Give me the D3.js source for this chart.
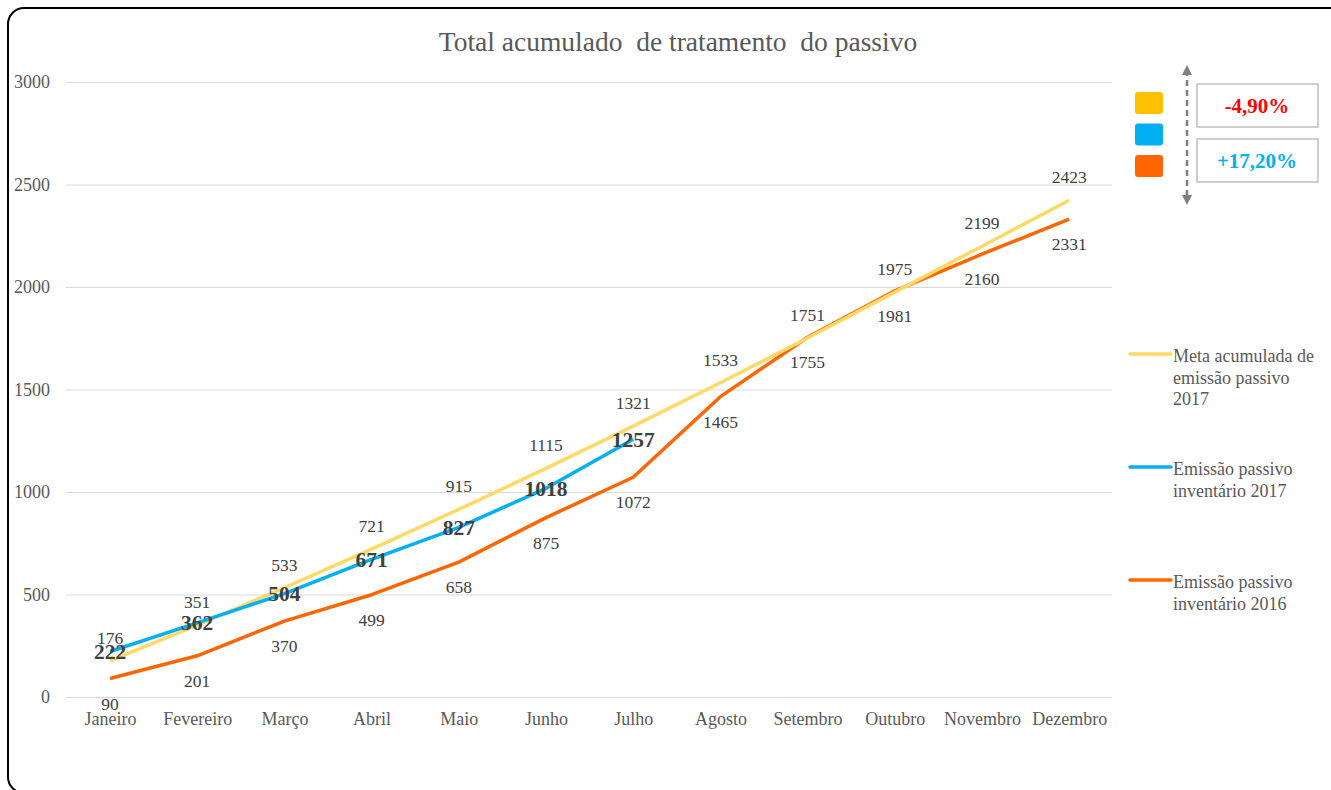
<!DOCTYPE html>
<html>
<head>
<meta charset="utf-8">
<script src="https://cdn.jsdelivr.net/npm/d3@7"></script>
<style>
  html, body { margin: 0; padding: 0; background: #fff; }
  svg { display: block; font-family: "Liberation Serif", "Times New Roman", serif; }
</style>
</head>
<body>
<svg id="chart" width="1331" height="790"></svg>
<script>
const months = ['Janeiro', 'Fevereiro', 'Março', 'Abril', 'Maio', 'Junho', 'Julho', 'Agosto', 'Setembro', 'Outubro', 'Novembro', 'Dezembro']
const meta2017 = [176, 351, 533, 721, 915, 1115, 1321, 1533, 1751, 1975, 2199, 2423]
const inv2017 = [222, 362, 504, 671, 827, 1018, 1257]
const inv2016 = [90, 201, 370, 499, 658, 875, 1072, 1465, 1755, 1981, 2160, 2331]
const yTicks = [0, 500, 1000, 1500, 2000, 2500, 3000]
const seriesNames = [['Meta acumulada de', 'emissão passivo', '2017'], ['Emissão passivo', 'inventário 2017'], ['Emissão passivo', 'inventário 2016']]
const deltas = ['-4,90%', '+17,20%']

const colors = { meta: '#FFD966', inv17: '#00B0F0', inv16: '#FF6600' }
const textGray = '#595959'
const serif = '"Liberation Serif", "Times New Roman", serif'

const svg = d3.select('#chart')

// frame (bottom and right edges run past the picture)
svg.append('rect')
  .attr('x', 8).attr('y', 8)
  .attr('width', 1340).attr('height', 785)
  .attr('rx', 16)
  .attr('fill', '#fff')
  .attr('stroke', '#000')
  .attr('stroke-width', 2)

svg.append('text')
  .attr('x', 678).attr('y', 51)
  .attr('text-anchor', 'middle')
  .attr('font-size', 27.5)
  .attr('fill', textGray)
  .style('white-space', 'pre')
  .text('Total acumulado  de tratamento  do passivo')

const x = d3.scalePoint().domain(months).range([66.4, 1112.8]).padding(0.5)
const y = d3.scaleLinear().domain([0, 3000]).range([697, 82])

// grid
const yAxis = svg.append('g')
  .attr('transform', 'translate(66,0)')
  .call(d3.axisLeft(y).tickValues(yTicks).tickSize(-1046).tickFormat(d3.format('d')))
yAxis.select('.domain').remove()
yAxis.selectAll('line').attr('stroke', '#D9D9D9').attr('stroke-width', 1)
yAxis.selectAll('text')
  .attr('x', -16)
  .attr('font-size', 18)
  .attr('font-family', serif)
  .attr('fill', textGray)

const xAxis = svg.append('g')
  .attr('transform', 'translate(0,697)')
  .call(d3.axisBottom(x).tickSize(0))
xAxis.select('.domain').remove()
xAxis.selectAll('text')
  .attr('y', 28)
  .attr('dy', '0')
  .attr('font-size', 18)
  .attr('font-family', serif)
  .attr('fill', textGray)

const line = d3.line()
  .x((d, i) => x(months[i]))
  .y(d => y(d))

const series = [
  { data: inv2016, color: colors.inv16 },
  { data: meta2017, color: colors.meta },
  { data: inv2017, color: colors.inv17 }
]
series.forEach(s => {
  svg.append('path')
    .datum(s.data)
    .attr('d', line)
    .attr('fill', 'none')
    .attr('stroke', s.color)
    .attr('stroke-width', 3.5)
    .attr('stroke-linejoin', 'round')
})

// data labels
svg.append('g').selectAll('text')
  .data(meta2017)
  .join('text')
  .attr('x', (d, i) => x(months[i]))
  .attr('y', d => y(d) - 17)
  .attr('text-anchor', 'middle')
  .attr('font-size', 17.5)
  .attr('fill', '#404040')
  .text(d => d)

svg.append('g').selectAll('text')
  .data(inv2016)
  .join('text')
  .attr('x', (d, i) => x(months[i]))
  .attr('y', d => y(d) + 31)
  .attr('text-anchor', 'middle')
  .attr('font-size', 17.5)
  .attr('fill', '#404040')
  .text(d => d)

svg.append('g').selectAll('text')
  .data(inv2017)
  .join('text')
  .attr('x', (d, i) => x(months[i]))
  .attr('y', d => y(d) + 7.5)
  .attr('text-anchor', 'middle')
  .attr('font-size', 21.5)
  .attr('font-weight', 'bold')
  .attr('fill', '#404040')
  .text(d => d)

// right legend
const legendY = [354, 467, 580]
const legendColors = [colors.meta, colors.inv17, colors.inv16]
seriesNames.forEach((lines, k) => {
  const g = svg.append('g')
  g.append('line')
    .attr('x1', 1130).attr('x2', 1171)
    .attr('y1', legendY[k]).attr('y2', legendY[k])
    .attr('stroke', legendColors[k])
    .attr('stroke-width', 3.5)
    .attr('stroke-linecap', 'round')
  lines.forEach((t, j) => {
    g.append('text')
      .attr('x', 1173)
      .attr('y', legendY[k] + 8 + j * 21.5)
      .attr('font-size', 18)
      .attr('fill', textGray)
      .text(t)
  })
})

// top-right indicator
const boxColors = ['#FFC000', '#00B0F0', '#FF6600']
boxColors.forEach((c, i) => {
  svg.append('rect')
    .attr('x', 1135).attr('y', 92 + i * 31.5)
    .attr('width', 28).attr('height', 22)
    .attr('rx', 3)
    .attr('fill', c)
})

const defs = svg.append('defs')
defs.append('marker')
  .attr('id', 'ah')
  .attr('viewBox', '0 0 10 10')
  .attr('refX', 5).attr('refY', 5)
  .attr('markerWidth', 4).attr('markerHeight', 4)
  .attr('orient', 'auto-start-reverse')
  .append('path')
  .attr('d', 'M0,0 L10,5 L0,10 z')
  .attr('fill', '#7F7F7F')

svg.append('line')
  .attr('x1', 1187).attr('x2', 1187)
  .attr('y1', 70).attr('y2', 200)
  .attr('stroke', '#7F7F7F')
  .attr('stroke-width', 2.5)
  .attr('stroke-dasharray', '6,4')
  .attr('marker-start', 'url(#ah)')
  .attr('marker-end', 'url(#ah)')

const deltaColors = ['#FF0000', '#00B0F0']
deltas.forEach((t, i) => {
  svg.append('rect')
    .attr('x', 1197).attr('y', 84 + i * 55)
    .attr('width', 121).attr('height', 43)
    .attr('fill', '#fff')
    .attr('stroke', '#BFBFBF')
    .attr('stroke-width', 1.5)
  svg.append('text')
    .attr('x', 1257).attr('y', 113 + i * 55)
    .attr('text-anchor', 'middle')
    .attr('font-size', 21)
    .attr('font-weight', 'bold')
    .attr('fill', deltaColors[i])
    .text(t)
})
</script>
</body>
</html>
